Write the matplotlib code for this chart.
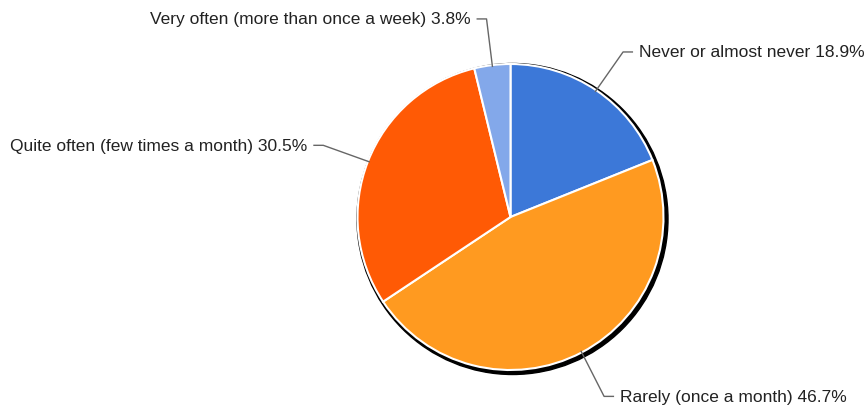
import numpy as np
import matplotlib
matplotlib.use("Agg")
import matplotlib.pyplot as plt
from matplotlib.patches import Circle

categories = ["Never or almost never", "Rarely (once a month)",
              "Quite often (few times a month)", "Very often (more than once a week)"]
shares = [18.9, 46.7, 30.5, 3.8]
colors = ["#3c78d8", "#ff9a20", "#ff5a05", "#83a8ea"]

plt.rcParams['font.family'] = ['Liberation Sans', 'DejaVu Sans']

W, H = 866, 407
fig = plt.figure(figsize=(W / 100, H / 100), dpi=100)
ax = fig.add_axes([0, 0, 1, 1])

cx, cy, r = 510.5, 190.0, 153.0

# shadow-like black rim, shifted bottom-right
ax.add_patch(Circle((cx + 2, cy - 2), r + 2.5, color="black", zorder=1))

wedges, _ = ax.pie(shares, colors=colors, startangle=90, counterclock=False,
                   center=(cx, cy), radius=r, frame=True,
                   wedgeprops=dict(edgecolor="white", linewidth=1.5, zorder=2))
ax.set_xlim(0, W)
ax.set_ylim(0, H)
ax.set_aspect('equal')
ax.axis('off')

for w, cat, s in zip(wedges, categories, shares):
    ang = np.deg2rad((w.theta1 + w.theta2) / 2)
    ca, sa = np.cos(ang), np.sin(ang)
    x0, y0 = cx + (r - 2) * ca, cy + (r - 2) * sa
    x1, y1 = cx + 201 * ca, cy + 201 * sa - 1.5
    side = 1 if ca >= 0 else -1
    x2 = x1 + 10 * side
    ax.plot([x0, x1, x2], [y0, y1, y1], color="#666666", lw=1, zorder=3,
            solid_capstyle="butt")
    ax.text(x2 + 6 * side, y1 - 1, f"{cat} {s:.1f}%", ha="left" if side > 0 else "right",
            va="center", fontsize=12.5, color="#222222")

fig.savefig("out.png", dpi=100)
